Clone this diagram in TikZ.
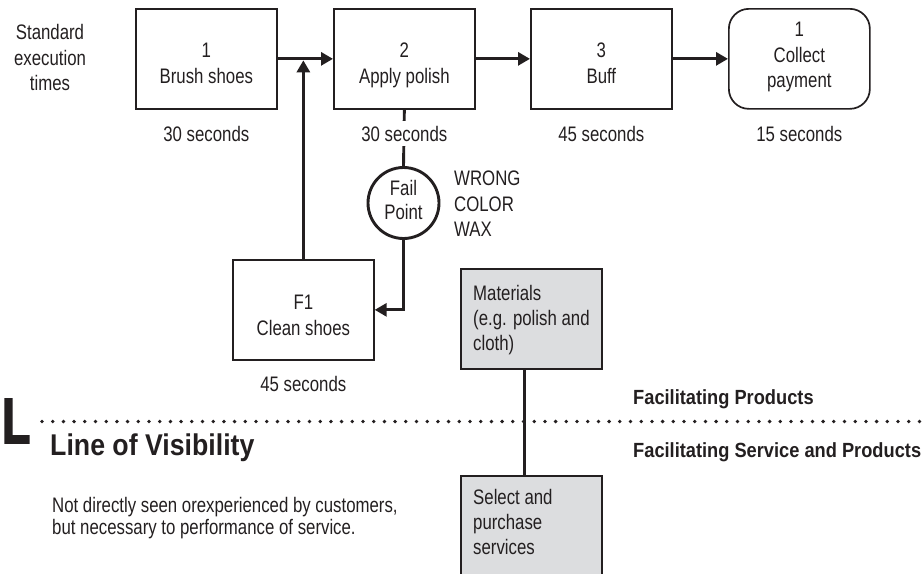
\documentclass[tikz,border=0pt]{standalone}
\usepackage{fontspec}
\setmainfont{Liberation Sans}[FakeStretch=0.80]
\newfontfamily\boldf{Liberation Sans}[FakeStretch=0.89]
\newfontfamily\heavyf{Liberation Sans}[FakeStretch=0.72, BoldFeatures={FakeBold=2.5}]
\usetikzlibrary{arrows.meta}
\definecolor{ink}{RGB}{35,31,32}
\definecolor{boxgray}{RGB}{220,221,223}
\begin{document}
\begin{tikzpicture}[x=1pt,y=-1pt,
  every node/.style={inner sep=0pt, text=ink},
  txt/.style={font=\fontsize{21}{25}\selectfont, anchor=base},
  ltxt/.style={font=\fontsize{21}{25}\selectfont, anchor=base west},
  btxt/.style={font=\boldf\bfseries\fontsize{20.5}{24}\selectfont, anchor=base west},
  proc/.style={draw=ink, line width=1.7pt, minimum width=141pt, minimum height=100pt, anchor=north west},
  gbox/.style={proc, fill=boxgray},
  flow/.style={draw=ink, line width=2.9pt, -{Triangle[length=12pt,width=13pt]}},
  plain/.style={draw=ink, line width=2.9pt},
  dotline/.style={draw=ink, line width=3.8pt, line cap=round, dash pattern=on 0pt off 10.7pt}
]
\useasboundingbox (0,0) rectangle (923,573);

% left header
\node[txt] (st1) at (50,39) {Standard};
\node[txt] (st2) at (50,65) {execution};
\node[txt] (st3) at (50,90) {times};

% process boxes
\node[proc] (b1) at (135,8) {};
\node[proc] (b2) at (333,8) {};
\node[proc] (b3) at (530,8) {};
\node[proc, rounded corners=20pt] (b4) at (728,8) {};

\node[txt] (b1n) at (b1.center |- 0,57) {1};
\node[txt] (b1t) at (b1.center |- 0,83) {Brush shoes};
\node[txt] (b2n) at (b2.center |- 0,57) {2};
\node[txt] (b2t) at (b2.center |- 0,83) {Apply polish};
\node[txt] (b3n) at (b3.center |- 0,57) {3};
\node[txt] (b3t) at (b3.center |- 0,83) {Buff};
\node[txt] (b4n) at (b4.center |- 0,36) {1};
\node[txt] (b4t) at (b4.center |- 0,62) {Collect};
\node[txt] (b4u) at (b4.center |- 0,87) {payment};

\draw[flow] (b1.east) -- (b2.west);
\draw[flow] (b2.east) -- (b3.west);
\draw[flow] (b3.east) -- (b4.west);

% fail point
\node[draw=ink, line width=2.9pt, circle, minimum size=71pt] (fp) at (403.5,203) {};
\node[txt] (fpa) at (403.5,195) {Fail};
\node[txt] (fpb) at (403.5,219) {Point};
\draw[plain] (b2.south) -- (fp.north);

% times
\node[txt] (t1) at (b1.center |- 0,141) {30 seconds};
\node[txt, fill=white, inner ysep=4.5pt] (t2) at (b2.center |- 0,141) {30 seconds};
\node[txt] (t3) at (b3.center |- 0,141) {45 seconds};
\node[txt] (t4) at (b4.center |- 0,141) {15 seconds};

\node[ltxt] (w1) at (454,185) {WRONG};
\node[ltxt] (w2) at (454,211) {COLOR};
\node[ltxt] (w3) at (454,236) {WAX};

% F1
\node[proc] (f1) at (232,259) {};
\node[txt] (f1n) at (f1.center |- 0,309) {F1};
\node[txt] (f1t) at (f1.center |- 0,335) {Clean shoes};
\node[txt] (t5) at (f1.center |- 0,391) {45 seconds};
\draw[flow] (fp.south) |- (f1.east);
\draw[flow, shorten >=1.5pt] (f1.north) -- (f1.north |- b1.east);

% materials
\node[gbox] (mat) at (460,268) {};
\node[ltxt] (m1) at (473,300) {Materials};
\node[ltxt] (m2) at (473,325) {(e.g. polish and};
\node[ltxt] (m3) at (473,350) {cloth)};

\node[gbox, minimum height=104pt] (sel) at (460,475) {};
\node[ltxt] (s1) at (473,504) {Select and};
\node[ltxt] (s2) at (473,529) {purchase};
\node[ltxt] (s3) at (473,554) {services};

% line of visibility
\coordinate (dl) at (42,421.5);
\coordinate (dr) at (923,421.5);
\draw[dotline] (dl) -- (dr);
\draw[plain] ([xshift=-6.5pt]mat.south) -- ([xshift=-6.5pt]mat.south |- sel.north);

\node[anchor=base west, font=\heavyf\bfseries\fontsize{64}{64}\selectfont] (bigL) at (2,443) {L};
\node[btxt, font=\boldf\bfseries\fontsize{30}{32}\selectfont] (lov) at (50,455) {Line of Visibility};
\node[ltxt] (n1) at (52,512) {Not directly seen orexperienced by customers,};
\node[ltxt] (n2) at (52,534) {but necessary to performance of service.};

\node[btxt] (fpr) at (633,404) {Facilitating Products};
\node[btxt] (fsp) at (633,457) {Facilitating Service and Products};
\end{tikzpicture}
\end{document}
